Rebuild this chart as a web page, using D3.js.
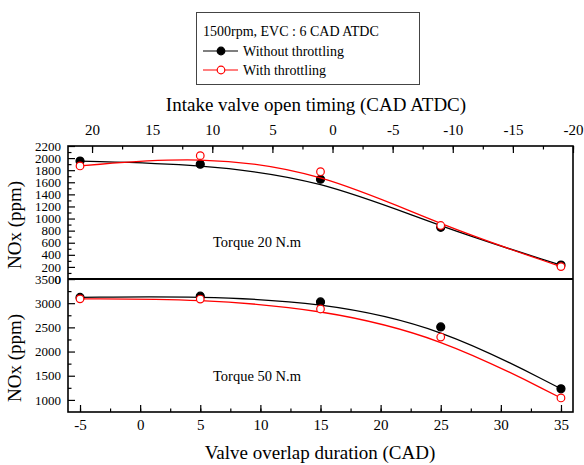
<!DOCTYPE html>
<html>
<head>
<meta charset="utf-8">
<script src="https://cdn.jsdelivr.net/npm/d3@7"></script>
<style>
body { margin: 0; background: #fff; }
svg { display: block; font-family: "Liberation Serif", "Times New Roman", serif; }
</style>
</head>
<body>
<svg></svg>
<script>

var width = 584;
var height = 465;

// data
var overlap = [-5, 5, 15, 25, 35];               // valve overlap duration (CAD)
var t20Without = [1950, 1900, 1650, 855, 230];   // Torque 20 N.m, without throttling
var t20With = [1870, 2040, 1775, 885, 205];      // Torque 20 N.m, with throttling
var t50Without = [3120, 3145, 3025, 2510, 1230]; // Torque 50 N.m, without throttling
var t50With = [3090, 3085, 2880, 2300, 1040];    // Torque 50 N.m, with throttling

var bottomTicks = [-5, 0, 5, 10, 15, 20, 25, 30, 35];
var topTicks = [20, 15, 10, 5, 0, -5, -10, -15, -20];
var yTopTicks = [0, 200, 400, 600, 800, 1000, 1200, 1400, 1600, 1800, 2000, 2200];
var yBotTicks = [1000, 1500, 2000, 2500, 3000, 3500];

// plot frame (avoid "top", it is window.top)
var pLeft = 68, pRight = 573, pTop = 146, pMid = 279, pBottom = 412;

var svg = d3.select("svg").attr("width", width).attr("height", height);

// scales
var xScale = d3.scaleLinear().domain([-6, 36]).range([pLeft, pRight]);
var xTopScale = d3.scaleLinear().domain([22, -20]).range([pLeft, pRight]);
var yTop = d3.scaleLinear().domain([0, 2200]).range([pMid, pTop]);
var yBot = d3.scaleLinear().domain([750, 3500]).range([pBottom, pMid]);

// plain hyphen for negatives, like the original
var fmt = function (d) { return String(d); };

function styleAxis(g, size) {
	// drop d3's sans-serif so the svg font is inherited
	g.attr("font-family", null).attr("font-size", size);
	g.select(".domain").remove();
	g.selectAll("line").attr("stroke", "#000").attr("stroke-width", 1.2);
	g.selectAll("text").attr("fill", "#000");
}

// bottom axis, ticks point inward
svg.append("g").attr("transform", "translate(0," + pBottom + ")")
	.call(d3.axisBottom(xScale).tickValues(d3.range(-5, 36, 2.5)).tickSize(-3.5).tickFormat(""))
	.call(styleAxis, 15);
svg.append("g").attr("transform", "translate(0," + pBottom + ")")
	.call(d3.axisBottom(xScale).tickValues(bottomTicks).tickSizeInner(-7).tickSizeOuter(0).tickPadding(7.5).tickFormat(fmt))
	.call(styleAxis, 15);

// top axis
svg.append("g").attr("transform", "translate(0," + pTop + ")")
	.call(d3.axisTop(xTopScale).tickValues(d3.range(20, -21, -2.5)).tickSize(-3.5).tickFormat(""))
	.call(styleAxis, 15);
svg.append("g").attr("transform", "translate(0," + pTop + ")")
	.call(d3.axisTop(xTopScale).tickValues(topTicks).tickSizeInner(-7).tickSizeOuter(0).tickPadding(11).tickFormat(fmt))
	.call(styleAxis, 15);

// left axes
svg.append("g").attr("transform", "translate(" + pLeft + ",0)")
	.call(d3.axisLeft(yTop).tickValues(d3.range(100, 2200, 200)).tickSize(-3.5).tickFormat(""))
	.call(styleAxis, 13);
svg.append("g").attr("transform", "translate(" + pLeft + ",0)")
	.call(d3.axisLeft(yTop).tickValues(yTopTicks).tickSizeInner(-7).tickSizeOuter(0).tickPadding(7).tickFormat(fmt))
	.call(styleAxis, 13);
svg.append("g").attr("transform", "translate(" + pLeft + ",0)")
	.call(d3.axisLeft(yBot).tickValues(d3.range(1250, 3500, 500)).tickSize(-3.5).tickFormat(""))
	.call(styleAxis, 13);
svg.append("g").attr("transform", "translate(" + pLeft + ",0)")
	.call(d3.axisLeft(yBot).tickValues(yBotTicks).tickSizeInner(-7).tickSizeOuter(0).tickPadding(7).tickFormat(fmt))
	.call(styleAxis, 13);

// frame
svg.append("rect").attr("x", pLeft).attr("y", pTop).attr("width", pRight - pLeft).attr("height", pBottom - pTop)
	.attr("fill", "none").attr("stroke", "#000").attr("stroke-width", 1.6);
svg.append("line").attr("x1", pLeft).attr("x2", pRight).attr("y1", pMid).attr("y2", pMid)
	.attr("stroke", "#000").attr("stroke-width", 2);

// series
var series = [
	{ vals: t20Without, y: yTop, color: "#000", filled: true },
	{ vals: t20With, y: yTop, color: "#ff0000", filled: false },
	{ vals: t50Without, y: yBot, color: "#000", filled: true },
	{ vals: t50With, y: yBot, color: "#ff0000", filled: false }
];

series.forEach(function (s) {
	var pts = overlap.map(function (d, i) { return [d, s.vals[i]]; });
	var line = d3.line()
		.x(function (d) { return xScale(d[0]); })
		.y(function (d) { return s.y(d[1]); })
		.curve(d3.curveBasis);
	svg.append("path").datum(pts).attr("d", line)
		.attr("fill", "none").attr("stroke", s.color).attr("stroke-width", 1.3);
	svg.selectAll(null).data(pts).enter().append("circle")
		.attr("cx", function (d) { return xScale(d[0]); })
		.attr("cy", function (d) { return s.y(d[1]); })
		.attr("r", s.filled ? 4 : 3.8)
		.attr("fill", s.filled ? s.color : "#fff")
		.attr("stroke", s.color).attr("stroke-width", 1.2);
});

// titles
svg.append("text").attr("x", 316).attr("y", 111).attr("text-anchor", "middle")
	.style("font-size", "19px").text("Intake valve open timing (CAD ATDC)");
svg.append("text").attr("x", 320).attr("y", 459).attr("text-anchor", "middle")
	.style("font-size", "19px").text("Valve overlap duration (CAD)");
svg.append("text").attr("transform", "translate(21,225) rotate(-90)").attr("text-anchor", "middle")
	.style("font-size", "19px").text("NOx (ppm)");
svg.append("text").attr("transform", "translate(21,358) rotate(-90)").attr("text-anchor", "middle")
	.style("font-size", "19px").text("NOx (ppm)");
svg.append("text").attr("x", 213).attr("y", 247).style("font-size", "14.5px").text("Torque 20 N.m");
svg.append("text").attr("x", 213).attr("y", 381).style("font-size", "14.5px").text("Torque 50 N.m");

// legend
var legend = svg.append("g");
legend.append("rect").attr("x", 196.5).attr("y", 12.5).attr("width", 223).attr("height", 72)
	.attr("fill", "#fff").attr("stroke", "#444").attr("stroke-width", 1);
legend.append("text").attr("x", 203).attr("y", 36).style("font-size", "14px").text("1500rpm, EVC : 6 CAD ATDC");
var legendItems = [
	{ label: "Without throttling", color: "#000", filled: true },
	{ label: "With throttling", color: "#ff0000", filled: false }
];
legendItems.forEach(function (d, i) {
	var yy = 51 + i * 19;
	legend.append("line").attr("x1", 203).attr("x2", 238).attr("y1", yy).attr("y2", yy)
		.attr("stroke", d.color).attr("stroke-width", 1.2);
	legend.append("circle").attr("cx", 221).attr("cy", yy).attr("r", 3.8)
		.attr("fill", d.filled ? d.color : "#fff").attr("stroke", d.color).attr("stroke-width", 1.2);
	legend.append("text").attr("x", 243).attr("y", yy + 4.5).style("font-size", "14px").text(d.label);
});

</script>
</body>
</html>
